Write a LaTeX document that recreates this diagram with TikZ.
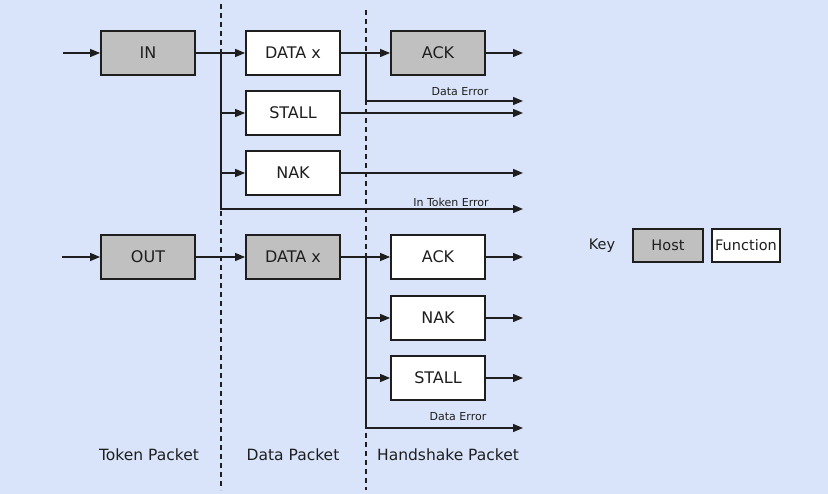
\documentclass[tikz,border=0pt]{standalone}
\usepackage{fontspec}
\setmainfont{DejaVu Sans}
\usetikzlibrary{arrows.meta}
\definecolor{bg}{RGB}{217,228,250}
\definecolor{hostgray}{RGB}{192,192,192}
\definecolor{ink}{RGB}{30,30,30}
\begin{document}
\begin{tikzpicture}[x=1pt,y=-1pt,
  pbox/.style={draw=ink,line width=1.8pt,minimum width=94pt,minimum height=44pt,inner sep=0pt,font=\fontsize{16}{16}\selectfont,text=ink},
  host/.style={pbox,fill=hostgray},
  func/.style={pbox,fill=white},
  wire/.style={draw=ink,line width=1.3pt},
  arr/.style={wire,-{Triangle[length=10pt,width=8pt]}},
  sep/.style={draw=ink,line width=1.6pt,dash pattern=on 5pt off 4pt},
  small/.style={font=\fontsize{11}{11}\selectfont,text=ink,inner sep=0pt},
  lab/.style={font=\fontsize{15.5}{15.5}\selectfont,text=ink,inner sep=0pt}]
\useasboundingbox (0,0) rectangle (828,494);
\fill[bg] (0,0) rectangle (828,494);
% separators
\coordinate (s1t) at (221,4); \coordinate (s1b) at (221,490);
\coordinate (s2t) at (366,10); \coordinate (s2b) at (366,490);
\draw[sep] (s1t) -- (s1b);
\draw[sep] (s2t) -- (s2b);
% boxes
\node[host] (IN) at (148,53) {IN};
\node[func] (DX1) at (293,53) {DATA x};
\node[func] (STALL1) at (293,113) {STALL};
\node[func] (NAK1) at (293,173) {NAK};
\node[host] (ACK1) at (438,53) {ACK};
\node[host] (OUT) at (148,257) {OUT};
\node[host] (DX2) at (293,257) {DATA x};
\node[func] (ACK2) at (438,257) {ACK};
\node[func] (NAK2) at (438,318) {NAK};
\node[func] (STALL2) at (438,378) {STALL};
% key
\node[lab,font=\fontsize{14.5}{14.5}\selectfont] (key) at (602,246) {Key};
\node[host,minimum width=70pt,minimum height=33pt,font=\fontsize{14.5}{14.5}\selectfont] (kh) at (668,245.5) {Host};
\node[func,minimum width=68pt,minimum height=33pt,font=\fontsize{14.5}{14.5}\selectfont] (kf) at (746,245.5) {Function};
% coordinates
\coordinate (in0) at (63,53);
\coordinate (out0) at (62,257);
\coordinate (rx) at (523,0);
\coordinate (j1) at (221,53);
\coordinate (e1) at (523,209);
\coordinate (j2) at (366,53);
\coordinate (e2) at (523,101);
\coordinate (j3) at (366,257);
\coordinate (e3) at (523,428);
% IN transaction
\draw[arr] (in0) -- (IN);
\draw[arr] (IN) -- (DX1);
\draw[arr] (j1) |- (e1);
\draw[arr] (j1 |- STALL1) -- (STALL1);
\draw[arr] (j1 |- NAK1) -- (NAK1);
\draw[arr] (DX1) -- (ACK1);
\draw[arr] (j2) |- (e2);
\draw[arr] (ACK1) -- (ACK1.east -| rx);
\draw[arr] (STALL1) -- (STALL1.east -| rx);
\draw[arr] (NAK1) -- (NAK1.east -| rx);
% OUT transaction
\draw[arr] (out0) -- (OUT);
\draw[arr] (OUT) -- (DX2);
\draw[arr] (DX2) -- (ACK2);
\draw[arr] (j3) |- (e3);
\draw[arr] (j3 |- NAK2) -- (NAK2);
\draw[arr] (j3 |- STALL2) -- (STALL2);
\draw[arr] (ACK2) -- (ACK2.east -| rx);
\draw[arr] (NAK2) -- (NAK2.east -| rx);
\draw[arr] (STALL2) -- (STALL2.east -| rx);
% labels
\node[small] (de1) at (460,92) {Data Error};
\node[small] (ite) at (451,202) {In Token Error};
\node[small] (de2) at (458,417) {Data Error};
\node[lab] (tp) at (149,455) {Token Packet};
\node[lab] (dp) at (293,455) {Data Packet};
\node[lab] (hp) at (448,455) {Handshake Packet};
\end{tikzpicture}
\end{document}
